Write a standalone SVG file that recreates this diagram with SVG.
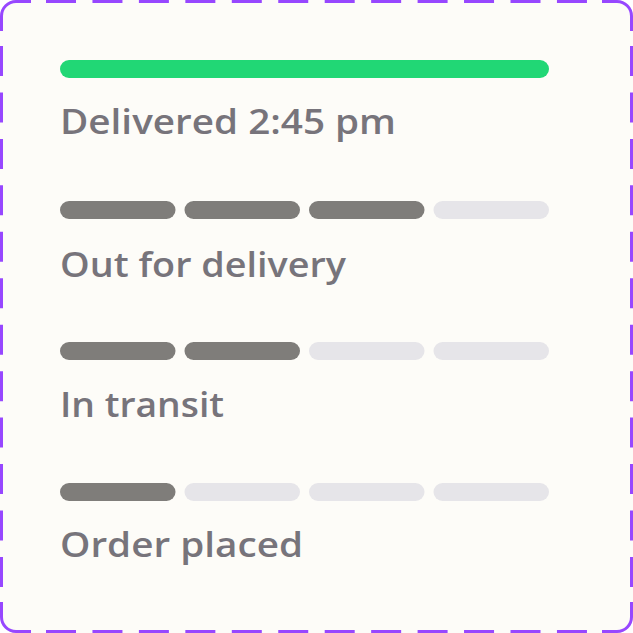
<svg xmlns="http://www.w3.org/2000/svg" width="633" height="633" viewBox="0 0 633 633">
<style>
.border{fill:none;stroke:#9747FF;stroke-width:3}
.dash{stroke-dasharray:30 16.45}
.lbl{font-family:"Open Sans","Liberation Sans",sans-serif;font-weight:600;font-size:34px;fill:#77747B}
.on{fill:#7F7D7A}
.off{fill:#E6E5E9}
.done{fill:#21D775}
</style>
<rect x="0" y="0" width="633" height="633" rx="16" fill="#FDFCF8"/>
<g id="frame">
<path class="border" d="M1.5,31 V16 A14.5,14.5 0 0 1 16,1.5 H31"/>
<path class="border" d="M602,1.5 H617 A14.5,14.5 0 0 1 631.5,16 V31"/>
<path class="border" d="M631.5,602 V617 A14.5,14.5 0 0 1 617,631.5 H602"/>
<path class="border" d="M31,631.5 H16 A14.5,14.5 0 0 1 1.5,617 V602"/>
<path class="border dash" d="M46,1.5 H587"/>
<path class="border dash" d="M46,631.5 H587"/>
<path class="border dash" d="M1.5,46 V587"/>
<path class="border dash" d="M631.5,46 V587"/>
</g>
<g id="delivered">
<rect class="done" x="60" y="60" width="489" height="18" rx="9"/>
<text class="lbl" x="60" y="133.5" textLength="336" lengthAdjust="spacingAndGlyphs">Delivered 2:45 pm</text>
</g>
<g id="out-for-delivery">
<rect class="on" x="60" y="201" width="115.5" height="18" rx="9"/>
<rect class="on" x="184.5" y="201" width="115.5" height="18" rx="9"/>
<rect class="on" x="309" y="201" width="115.5" height="18" rx="9"/>
<rect class="off" x="433.5" y="201" width="115.5" height="18" rx="9"/>
<text class="lbl" x="60" y="276.5" textLength="286" lengthAdjust="spacingAndGlyphs">Out for delivery</text>
</g>
<g id="in-transit">
<rect class="on" x="60" y="342" width="115.5" height="18" rx="9"/>
<rect class="on" x="184.5" y="342" width="115.5" height="18" rx="9"/>
<rect class="off" x="309" y="342" width="115.5" height="18" rx="9"/>
<rect class="off" x="433.5" y="342" width="115.5" height="18" rx="9"/>
<text class="lbl" x="60" y="416.5" textLength="164" lengthAdjust="spacingAndGlyphs">In transit</text>
</g>
<g id="order-placed">
<rect class="on" x="60" y="483" width="115.5" height="18" rx="9"/>
<rect class="off" x="184.5" y="483" width="115.5" height="18" rx="9"/>
<rect class="off" x="309" y="483" width="115.5" height="18" rx="9"/>
<rect class="off" x="433.5" y="483" width="115.5" height="18" rx="9"/>
<text class="lbl" x="60" y="556.5" textLength="243" lengthAdjust="spacingAndGlyphs">Order placed</text>
</g>
<g id="connectors"/>
</svg>
